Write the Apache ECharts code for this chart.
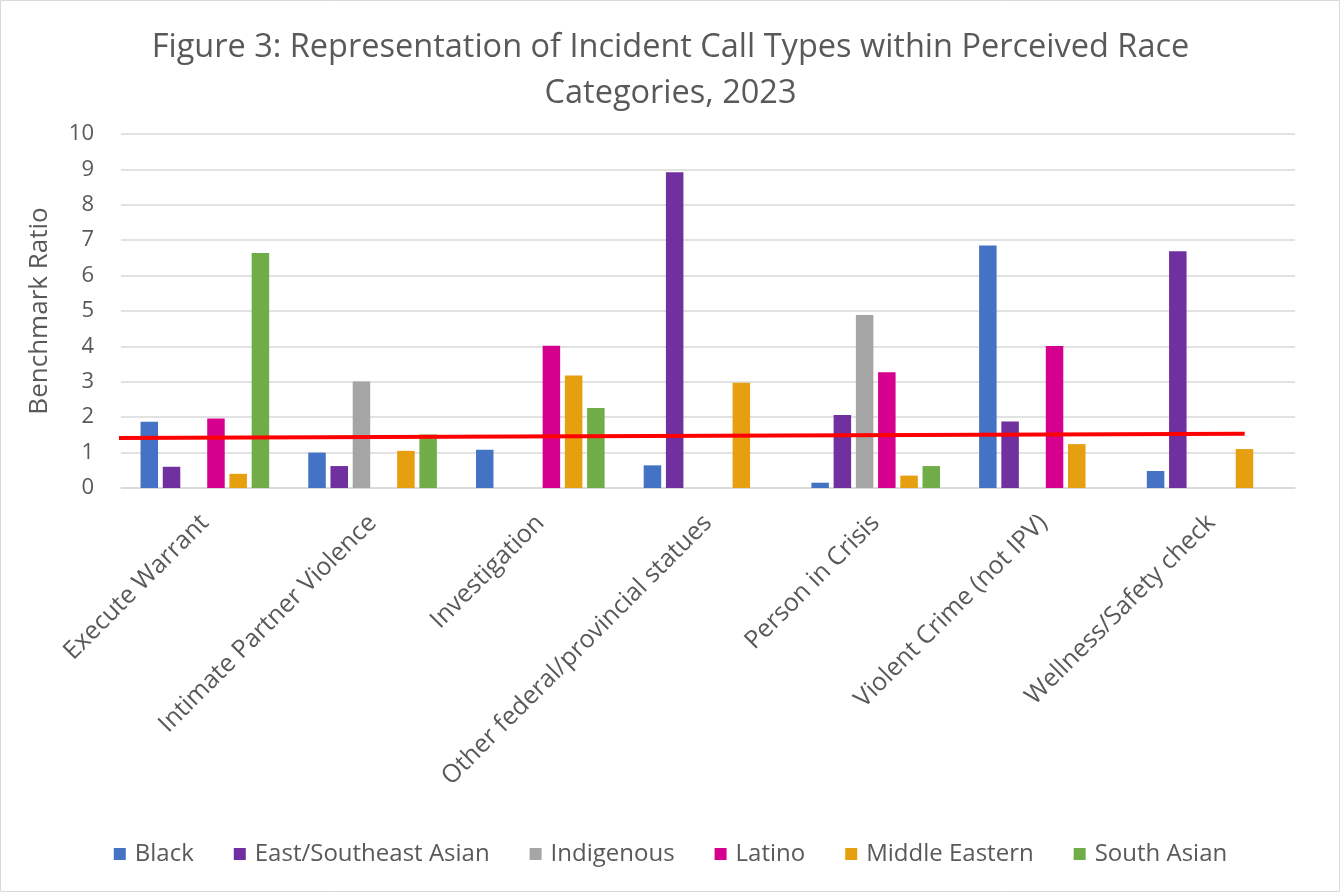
<!DOCTYPE html>
<html>
<head>
<meta charset="utf-8">
<title>Figure 3</title>
<script src="https://cdn.jsdelivr.net/npm/echarts@6/dist/echarts.min.js"></script>
<style>
  html, body { margin: 0; padding: 0; background: #fff; }
  #chart { width: 1341px; height: 893px; }
</style>
</head>
<body>
<div id="chart"></div>
<script>
// Incident call types (x-axis categories)
const callTypes = [
  'Execute Warrant',
  'Intimate Partner Violence',
  'Investigation',
  'Other federal/provincial statues',
  'Person in Crisis',
  'Violent Crime (not IPV)',
  'Wellness/Safety check'
];

// Benchmark ratio per perceived race category (null = no bar)
const black          = [1.87, 1.00, 1.08, 0.64, 0.15, 6.85, 0.48];
const eastSEAsian    = [0.60, 0.62, null, 8.92, 2.06, 1.88, 6.69];
const indigenous     = [null, 3.01, null, null, 4.89, null, null];
const latino         = [1.96, null, 4.02, null, 3.27, 4.01, null];
const middleEastern  = [0.40, 1.05, 3.18, 2.97, 0.35, 1.24, 1.10];
const southAsian     = [6.64, 1.51, 2.26, null, 0.62, null, null];

const seriesNames = ['Black', 'East/Southeast Asian', 'Indigenous', 'Latino', 'Middle Eastern', 'South Asian'];
const seriesColors = ['#4472C4', '#7030A0', '#A5A5A5', '#D6008F', '#E69F0E', '#70AD47'];
const seriesValues = [black, eastSEAsian, indigenous, latino, middleEastern, southAsian];

// Red reference line: [category position, ratio] at each end
const referenceLine = [[-0.04, 1.41], [6.70, 1.53]];

// Y axis ticks
const yMin = 0, yMax = 10, yStep = 1;

const FONT = '"Open Sans", sans-serif';
const TEXT = '#595959';

const chart = echarts.init(document.getElementById('chart'), null, { renderer: 'canvas' });

const barSeries = seriesNames.map((name, i) => ({
  name: name,
  type: 'bar',
  xAxisIndex: 0,
  yAxisIndex: 0,
  data: seriesValues[i],
  barWidth: 17.5,
  barGap: '27%',
  barCategoryGap: '23%',
  itemStyle: { color: seriesColors[i] }
}));

chart.setOption({
  animation: false,
  backgroundColor: '#fff',
  title: {
    text: 'Figure 3: Representation of Incident Call Types within Perceived Race\nCategories, 2023',
    left: 'center',
    top: 20,
    textStyle: { fontFamily: FONT, fontSize: 32.5, fontWeight: 'normal', color: TEXT, lineHeight: 46 }
  },
  legend: {
    data: seriesNames,
    bottom: 22,
    left: 'center',
    icon: 'rect',
    itemWidth: 12,
    itemHeight: 12,
    itemGap: 40,
    textStyle: { fontFamily: FONT, fontSize: 24, color: TEXT, padding: [0, 0, 0, 4] }
  },
  grid: { left: 121, right: 46, top: 134, bottom: 405, containLabel: false },
  xAxis: [
    {
      type: 'category',
      data: callTypes,
      axisLine: { show: true, lineStyle: { color: '#D9D9D9', width: 1.5 } },
      axisTick: { show: false },
      axisLabel: {
        rotate: 45,
        interval: 0,
        margin: 31,
        fontFamily: FONT,
        fontSize: 25,
        color: TEXT
      }
    },
    {
      type: 'value',
      min: 0,
      max: 7,
      show: false
    }
  ],
  yAxis: {
    type: 'value',
    min: yMin,
    max: yMax,
    interval: yStep,
    name: 'Benchmark Ratio',
    nameLocation: 'middle',
    nameGap: 68,
    nameTextStyle: { fontFamily: FONT, fontSize: 26, color: TEXT },
    axisLine: { show: false },
    axisTick: { show: false },
    axisLabel: { fontFamily: FONT, fontSize: 22, color: TEXT, margin: 27 },
    splitLine: { lineStyle: { color: '#D9D9D9', width: 1.5 } }
  },
  series: barSeries.concat([{
    name: 'Reference',
    type: 'line',
    xAxisIndex: 1,
    yAxisIndex: 0,
    data: referenceLine,
    clip: false,
    symbol: 'none',
    silent: true,
    lineStyle: { color: '#FF0000', width: 4 },
    z: 5
  }]),
  graphic: [{
    type: 'rect',
    shape: { x: 0.5, y: 0.5, width: 1339, height: 891 },
    style: { fill: 'none', stroke: '#D9D9D9', lineWidth: 1 },
    silent: true
  }]
});
</script>
</body>
</html>
